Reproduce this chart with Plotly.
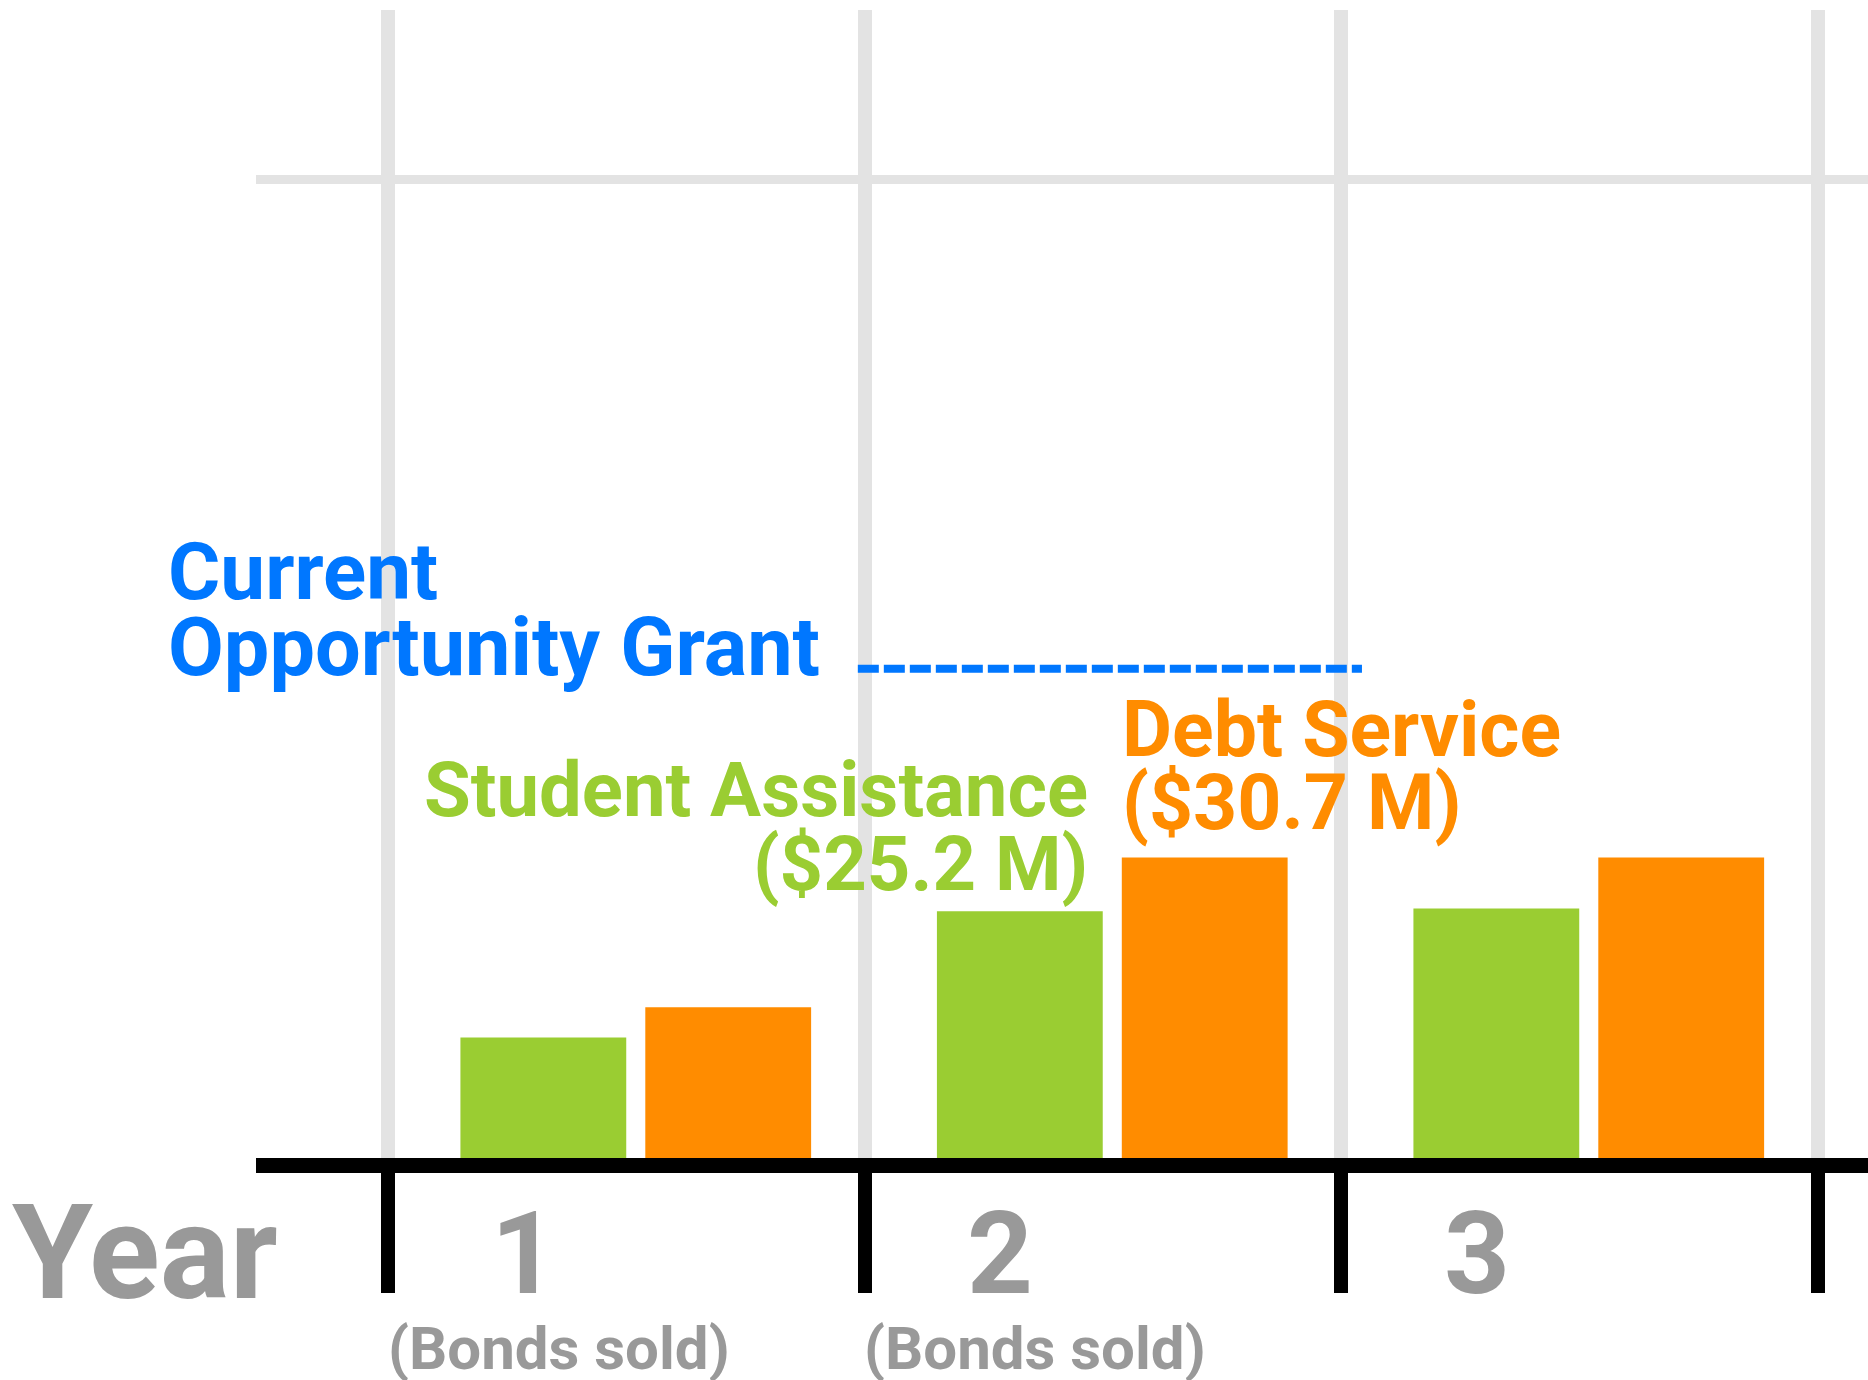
import plotly.graph_objects as go

# ---------------- data ----------------
years = ["1", "2", "3"]
year_notes = ["(Bonds sold)", "(Bonds sold)", ""]
student_assistance = [12.3, 25.2, 25.5]   # $ M
debt_service = [15.4, 30.7, 30.7]         # $ M
opportunity_grant = 50.0                  # $ M (current level)
gridline_value = 100

series_names = ["Student Assistance", "Debt Service"]
green = "#9acd32"
orange = "#ff8c00"
blue = "#0077ff"
gray = "#999999"
grid = "#e3e3e3"
FONT = "Roboto"

W, H = 1868, 1380
ML, MR, MT, MB = 256, 0, 10, 222
PW, PH = W - ML - MR, H - MT - MB


def px(xs):
    """screen x pixel -> paper x"""
    return (xs - ML) / PW


def py(ys):
    """screen y pixel -> paper y"""
    return (H - MB - ys) / PH


fig = go.Figure()
fig.add_trace(go.Bar(x=years, y=student_assistance, name=series_names[0],
                     marker=dict(color=green, line=dict(width=0)),
                     width=0.348, offset=-0.349))
fig.add_trace(go.Bar(x=years, y=debt_service, name=series_names[1],
                     marker=dict(color=orange, line=dict(width=0)),
                     width=0.348, offset=0.039))

# current opportunity grant level (dashed)
fig.add_shape(type="line", xref="x", yref="y", x0=0.485, x1=1.543,
              y0=opportunity_grant, y1=opportunity_grant,
              line=dict(color=blue, width=8, dash="21px,5px"), layer="above")

ann = []


def txt(text, x, y, size, color, xanchor="center", xref="paper", xshift=0):
    ann.append(dict(text=text, x=x, y=y, xref=xref, yref="paper",
                    xanchor=xanchor, yanchor="middle", showarrow=False,
                    xshift=xshift,
                    font=dict(family=FONT, size=size, color=color, weight="bold")))


# axis labels
txt("Year", px(10), py(1253), 131, gray, xanchor="left")
for i, (yr, note) in enumerate(zip(years, year_notes)):
    txt(yr, i, py(1253), 115, gray, xref="x", xshift=-103)
    if note:
        txt(note, i, py(1348), 60, gray, xref="x", xshift=-68)

# series labels
txt("Current", px(166), py(572), 80, blue, xanchor="left")
txt("Opportunity Grant", px(166), py(647), 81, blue, xanchor="left")
txt(series_names[0], px(1090), py(790), 76, green, xanchor="right")
txt(f"(${student_assistance[1]:.1f} M)", px(1090), py(864), 76, green, xanchor="right")
txt(series_names[1], px(1120), py(730), 77, orange, xanchor="left")
txt(f"(${debt_service[1]:.1f} M)", px(1120), py(803), 77, orange, xanchor="left")

fig.update_layout(
    width=W, height=H,
    margin=dict(l=ML, r=MR, t=MT, b=MB, pad=0),
    paper_bgcolor="white", plot_bgcolor="white",
    showlegend=False,
    annotations=ann,
    barmode="group",
    xaxis=dict(type="category", categoryorder="array", categoryarray=years,
               range=[-0.778, 2.605], tickson="boundaries",
               showgrid=True, gridcolor=grid, gridwidth=14,
               showline=True, linecolor="black", linewidth=15,
               ticks="outside", ticklen=120, tickwidth=14, tickcolor="black",
               showticklabels=False, zeroline=False, fixedrange=True),
    yaxis=dict(range=[0, 117.3], tickvals=[gridline_value],
               showgrid=True, gridcolor=grid, gridwidth=9,
               showticklabels=False, ticks="", zeroline=False,
               showline=False, fixedrange=True),
)

fig.write_html("out.html",
               config={"displayModeBar": False},
               post_script="document.body.style.margin='0';"
                           "document.documentElement.style.overflow='hidden';"
                           "document.body.style.overflow='hidden';")
